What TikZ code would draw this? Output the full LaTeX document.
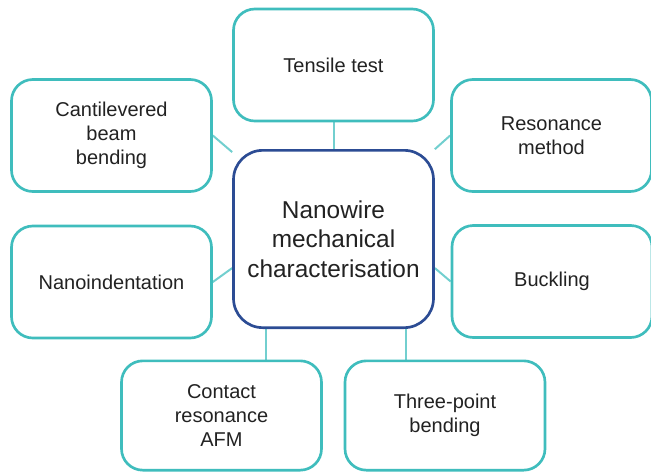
\documentclass[tikz,border=0pt]{standalone}
\usepackage{fontspec}
\setmainfont{Liberation Sans}
\usetikzlibrary{backgrounds}
\definecolor{tealbox}{HTML}{3FBDBD}
\definecolor{linkteal}{HTML}{72CFCF}
\definecolor{hubblue}{HTML}{2C4C94}
\definecolor{textgrey}{HTML}{222222}
\begin{document}
\begin{tikzpicture}[x=0.75pt,y=-0.75pt,
method/.style={draw=tealbox, line width=2pt, rounded corners=16pt, fill=white,
  minimum width=150pt, minimum height=84pt, align=center,
  font=\fontsize{15}{18}\selectfont, text=textgrey},
hub/.style={draw=hubblue, line width=2pt, rounded corners=22pt, fill=white,
  minimum width=150pt, minimum height=133pt, align=center,
  font=\fontsize{18.3}{22}\selectfont, text=textgrey},
link/.style={draw=linkteal, line width=1.5pt}]
\useasboundingbox (0,0) rectangle (651,472);
\par
\node[hub] (hub) at (333.5,239) {Nanowire\\mechanical\\characterisation};
\node[method] (tensile) at (333.5,65) {Tensile test};
\node[method] (cant) at (111.5,135.5) {Cantilevered\\beam\\bending};
\node[method] (res) at (551.5,135.5) {Resonance\\method};
\node[method] (nano) at (111.5,282) {Nanoindentation};
\node[method] (buck) at (552,281.5) {Buckling};
\node[method, minimum height=82pt] (contact) at (221.5,415.5) {Contact\\resonance\\AFM};
\node[method, minimum height=82pt] (tpb) at (445,415.5) {Three-point\\bending};
\par
\begin{scope}[on background layer]
\draw[link] (tensile) -- (hub);
\draw[link] (cant.east) -- (hub);
\draw[link] (res.west) -- (hub);
\draw[link] (nano.east) -- (hub.196);
\draw[link] (buck.west) -- (hub.-16);
\draw[link] (hub.233.5) -- (hub.233.5 |- contact.north);
\draw[link] (hub.309) -- (hub.309 |- tpb.north);
\end{scope}
\end{tikzpicture}
\end{document}
